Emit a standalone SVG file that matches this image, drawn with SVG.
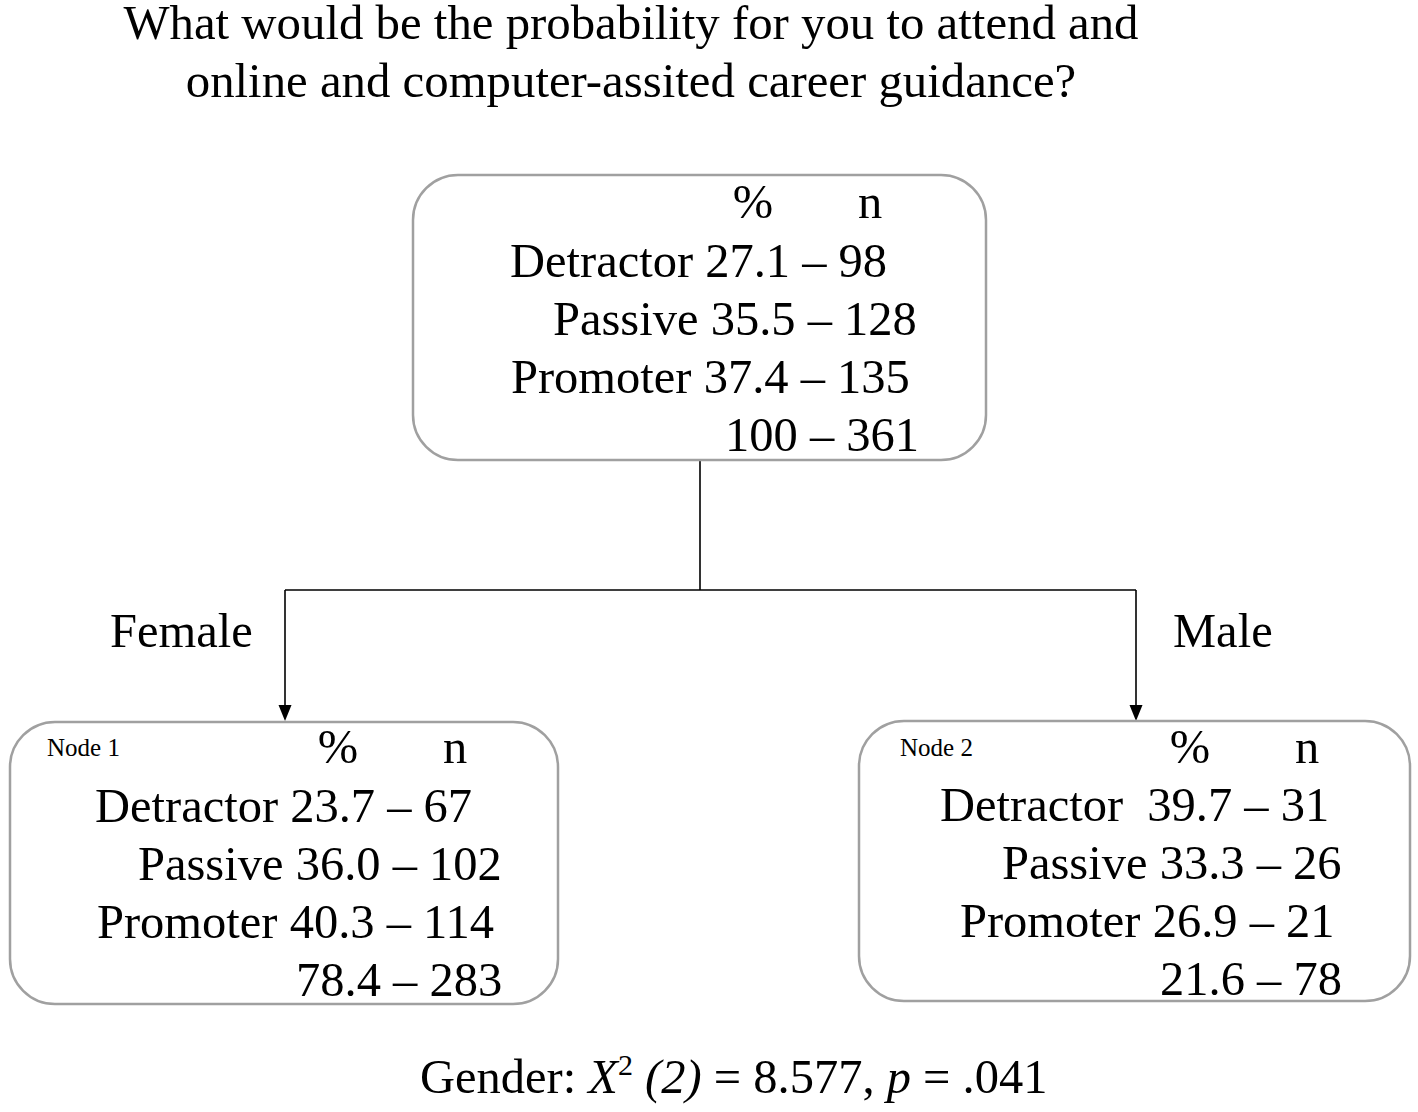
<svg xmlns="http://www.w3.org/2000/svg" width="1418" height="1112" viewBox="0 0 1418 1112">
<defs>
<style>
text{font-family:"Liberation Serif","Times New Roman",serif;fill:#000;font-size:48.5px}
.title{font-size:48.8px}
.box{fill:#fff;stroke:#a0a0a0;stroke-width:2.5}
.small{font-size:25px}
.conn{fill:none;stroke:#000;stroke-width:1.6}
.head{fill:#000}
</style>
</defs>
<rect width="1418" height="1112" fill="#fff"/>
<g id="title">
<text class="title" x="631" y="39" text-anchor="middle">What would be the probability for you to attend and</text>
<text class="title" x="631" y="97" text-anchor="middle">online and computer-assited career guidance?</text>
</g>
<g id="connectors">
<path class="conn" d="M700,460 V590 M285,590 H1136"/>
<path class="conn" d="M285,590 V705"/>
<path class="head" d="M278.5,705 L291.5,705 L285,721 Z"/>
<path class="conn" d="M1136,590 V705"/>
<path class="head" d="M1129.5,705 L1142.5,705 L1136,721 Z"/>
<text x="110" y="647">Female</text>
<text x="1173" y="647">Male</text>
</g>
<g id="node0">
<rect class="box" x="413" y="175" width="573" height="285" rx="45"/>
<text x="753" y="218" text-anchor="middle">%</text>
<text x="870" y="218" text-anchor="middle">n</text>
<text x="510" y="277">Detractor 27.1 – 98</text>
<text x="553" y="335">Passive 35.5 – 128</text>
<text x="511" y="393">Promoter 37.4 – 135</text>
<text x="725" y="451">100 – 361</text>
</g>
<g id="node1">
<rect class="box" x="10" y="722" width="548" height="282" rx="45"/>
<text class="small" x="47" y="756">Node 1</text>
<text x="338" y="763" text-anchor="middle">%</text>
<text x="455" y="763" text-anchor="middle">n</text>
<text x="95" y="822">Detractor 23.7 – 67</text>
<text x="138" y="880">Passive 36.0 – 102</text>
<text x="97" y="938">Promoter 40.3 – 114</text>
<text x="296" y="996">78.4 – 283</text>
</g>
<g id="node2">
<rect class="box" x="859" y="721" width="551" height="280" rx="45"/>
<text class="small" x="900" y="756">Node 2</text>
<text x="1190" y="763" text-anchor="middle">%</text>
<text x="1307" y="763" text-anchor="middle">n</text>
<text x="940" y="821" xml:space="preserve">Detractor  39.7 – 31</text>
<text x="1002" y="879">Passive 33.3 – 26</text>
<text x="960" y="937">Promoter 26.9 – 21</text>
<text x="1160" y="995">21.6 – 78</text>
</g>
<g id="stat">
<text x="420" y="1093">Gender: <tspan font-style="italic">X</tspan><tspan font-size="30" dy="-18">2</tspan><tspan dy="18" font-style="italic"> (2)</tspan> = 8.577, <tspan font-style="italic">p</tspan> = .041</text>
</g>
</svg>
